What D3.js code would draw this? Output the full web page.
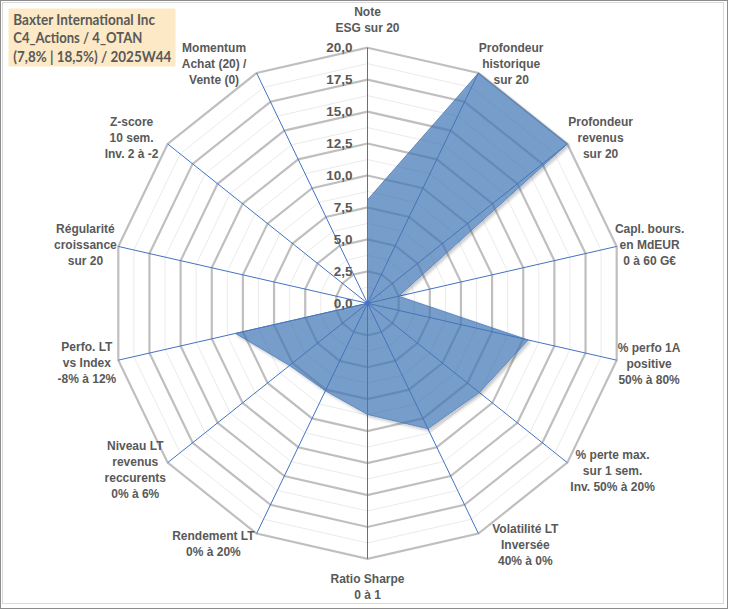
<!DOCTYPE html>
<html><head><meta charset="utf-8">
<script src="https://cdn.jsdelivr.net/npm/d3@7"></script>
<style>html,body{margin:0;padding:0;background:#fff;}svg{display:block;}</style>
</head><body>
<script>
// ---- data ----
const axisLabels = [
  "Note\nESG sur 20",
  "Profondeur\nhistorique\nsur 20",
  "Profondeur\nrevenus\nsur 20",
  "Capl. bours.\nen MdEUR\n0 à 60 G€",
  "% perfo 1A\npositive\n50% à 80%",
  "% perte max.\nsur 1 sem.\nInv. 50% à 20%",
  "Volatilité LT\nInversée\n40% à 0%",
  "Ratio Sharpe\n0 à 1",
  "Rendement LT\n0% à 20%",
  "Niveau LT\nrevenus\nreccurents\n0% à 6%",
  "Perfo. LT\nvs Index\n-8% à 12%",
  "Régularité\ncroissance\nsur 20",
  "Z-score\n10 sem.\nInv. 2 à -2",
  "Momentum\nAchat (20) /\nVente (0)"
];
const scores = [8.1, 20, 20, 2.5, 12.9, 11.2, 10.9, 8.7, 7.6, 7.8, 10.6, 0, 0, 0];
const ringTicks = [0, 2.5, 5, 7.5, 10, 12.5, 15, 17.5, 20];
const minorStep = 1.25;
const titleLines = ["Baxter International Inc", "C4_Actions / 4_OTAN", "(7,8% | 18,5%) / 2025W44"];

// ---- layout (label placement: angle in degrees, distance from centre) ----
const labelPolar = [
  [0, 283], [31.0, 279], [54.7, 285.6], [78.4, 288], [102.1, 288], [124.4, 297], [146.9, 289],
  [180, 284], [212.6, 286], [234.3, 286], [257.9, 287], [281.6, 288], [305, 288], [327.3, 284]
];

const W = 729, H = 610;
const cx = 367.5, cy = 303.3, R = 255.6;
const n = axisLabels.length;

const svg = d3.select("body").append("svg").attr("width", W).attr("height", H);

const defs = svg.append("defs");
const f = defs.append("filter").attr("id", "shadow").attr("x", "-10%").attr("y", "-10%").attr("width", "130%").attr("height", "130%");
f.append("feGaussianBlur").attr("in", "SourceAlpha").attr("stdDeviation", 1.5).attr("result", "blur");
f.append("feOffset").attr("in", "blur").attr("dx", 1.5).attr("dy", 1.5).attr("result", "off");
f.append("feComposite").attr("in", "off").attr("in2", "SourceAlpha").attr("operator", "out").attr("result", "outer");
f.append("feComponentTransfer").attr("in", "outer").attr("result", "sh")
  .append("feFuncA").attr("type", "linear").attr("slope", 0.3);
const fm = f.append("feMerge");
fm.append("feMergeNode").attr("in", "sh");
fm.append("feMergeNode").attr("in", "SourceGraphic");

// frames
svg.append("rect").attr("x", 0.5).attr("y", 0.5).attr("width", 727).attr("height", 608)
  .attr("fill", "#fff").attr("stroke", "#8c8c8c").attr("stroke-width", 1);
svg.append("rect").attr("x", 2.5).attr("y", 2.5).attr("width", 721).attr("height", 601)
  .attr("fill", "none").attr("stroke", "#d9d9d9").attr("stroke-width", 1);

const r = d3.scaleLinear().domain([0, 20]).range([0, R]);
const angle = i => i * 2 * Math.PI / n;
const g = svg.append("g").attr("transform", `translate(${cx},${cy})`);

const radial = d3.lineRadial().angle((d, i) => angle(i)).radius(d => r(d)).curve(d3.curveLinearClosed);

// minor rings
const allLevels = d3.range(minorStep, 20 + 1e-9, minorStep);
const minorLevels = allLevels.filter(v => Math.abs(v / 2.5 - Math.round(v / 2.5)) > 1e-6);
g.selectAll("path.minor").data(minorLevels).join("path")
  .attr("class", "minor")
  .attr("d", v => radial(d3.range(n).map(() => v)))
  .attr("fill", "none").attr("stroke", "#ebebeb").attr("stroke-width", 1);
// major rings
g.selectAll("path.major").data(ringTicks.filter(v => v > 0)).join("path")
  .attr("class", "major")
  .attr("d", v => radial(d3.range(n).map(() => v)))
  .attr("fill", "none").attr("stroke", "#bfbfbf").attr("stroke-width", 2.2);

// spokes
g.selectAll("line.spoke").data(d3.range(n)).join("line")
  .attr("class", "spoke")
  .attr("x1", 0).attr("y1", 0)
  .attr("x2", i => r(20) * Math.sin(angle(i)))
  .attr("y2", i => -r(20) * Math.cos(angle(i)))
  .attr("stroke", "#4472c4").attr("stroke-width", 1);

// series
g.append("path").datum(scores)
  .attr("d", radial)
  .attr("fill", "#4277b6").attr("fill-opacity", 0.7)
  .attr("stroke", "#4a78b8").attr("stroke-opacity", 0.8).attr("stroke-width", 1)
  .attr("filter", "url(#shadow)");

g.append("circle").attr("r", 2.2).attr("fill", "#4472c4");

// ring labels
const fmt = v => d3.format(".1f")(v).replace(".", ",");
g.selectAll("text.tick").data(ringTicks).join("text")
  .attr("class", "tick")
  .attr("x", -15).attr("y", v => -r(v))
  .attr("text-anchor", "end").attr("dominant-baseline", "central")
  .attr("font-family", "Liberation Sans, Arial, sans-serif").attr("font-weight", "bold")
  .attr("font-size", 13.5).attr("fill", "#595959")
  .text(fmt);

// axis labels
const lab = g.selectAll("g.lab").data(axisLabels).join("g").attr("class", "lab")
  .attr("transform", (d, i) => {
    const a = labelPolar[i][0] * Math.PI / 180, dist = labelPolar[i][1];
    return `translate(${dist * Math.sin(a)},${-dist * Math.cos(a)})`;
  });
lab.each(function (d) {
  const lines = d.split("\n");
  const t = d3.select(this).append("text")
    .attr("text-anchor", "middle")
    .attr("font-family", "Liberation Sans, Arial, sans-serif").attr("font-weight", "bold")
    .attr("font-size", 12).attr("fill", "#595959");
  lines.forEach((ln, k) => {
    t.append("tspan").attr("x", 0).attr("y", (k - (lines.length - 1) / 2) * 16)
      .attr("dominant-baseline", "central").text(ln);
  });
});

// title box
svg.append("rect").attr("x", 8.5).attr("y", 8.5).attr("width", 167).attr("height", 58)
  .attr("fill", "#fde9c6");
const tt = svg.append("text")
  .attr("font-family", "Lato, 'Open Sans', sans-serif").attr("font-weight", "bold")
  .attr("font-size", 14.5).attr("fill", "#595959");
const titleW = [141.7, 129, 158];
titleLines.forEach((ln, k) => {
  tt.append("tspan").attr("x", 13.3).attr("y", 25 + k * 18.4)
    .attr("textLength", titleW[k]).attr("lengthAdjust", "spacingAndGlyphs").text(ln);
});
</script>
</body></html>
